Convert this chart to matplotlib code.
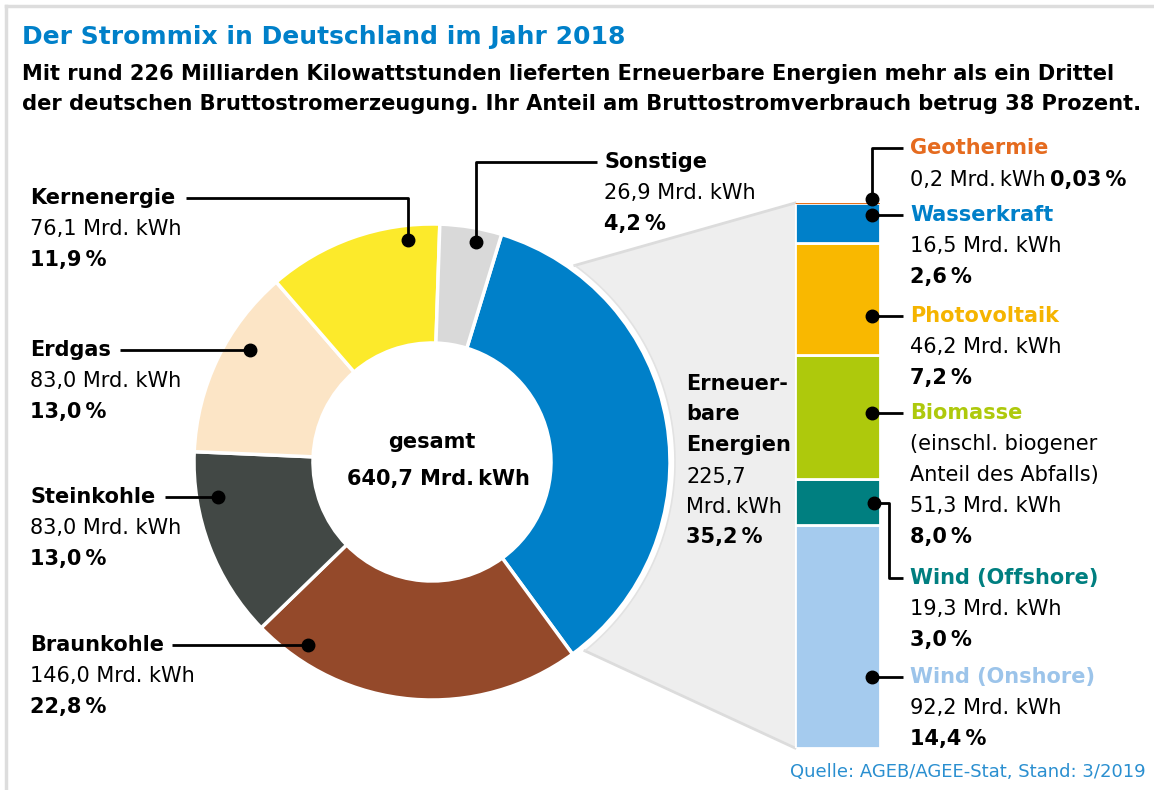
import numpy as np
import matplotlib
matplotlib.use('Agg')
import matplotlib.pyplot as plt
from matplotlib.patches import Polygon

W, H = 1154, 790
plt.rcParams['font.family'] = ['DejaVu Sans']

# Daten: Bruttostromerzeugung 2018 (Mrd. kWh)
quellen = ['Erneuerbare Energien', 'Braunkohle', 'Steinkohle', 'Erdgas', 'Kernenergie', 'Sonstige']
mrd_kwh = [225.7, 146.0, 83.0, 83.0, 76.1, 26.9]
anteile = ['35,2', '22,8', '13,0', '13,0', '11,9', '4,2']
farben = ['#0080c9', '#94492a', '#424845', '#fce5c6', '#fcea2b', '#d9d9d9']

# Aufteilung der Erneuerbaren (von unten nach oben)
ee_quellen = ['Wind (Onshore)', 'Wind (Offshore)', 'Biomasse', 'Photovoltaik', 'Wasserkraft', 'Geothermie']
ee_mrd_kwh = [92.2, 19.3, 51.3, 46.2, 16.5, 0.2]
ee_anteile = ['14,4', '3,0', '8,0', '7,2', '2,6', '0,03']
ee_farben = ['#a5cbee', '#007f80', '#aec90c', '#f9b800', '#0080c9', '#e8711c']
ee_textfarben = ['#9cc4ea', '#007f80', '#aec90c', '#f5b400', '#0080c9', '#e56b1f']

gesamt = sum(mrd_kwh)

def fmt(v):
    return ('%.1f' % v).replace('.', ',')

fig = plt.figure(figsize=(W / 100, H / 100), dpi=100)

# Hintergrund (Verbindungsflaeche, Rahmen)
unten = fig.add_axes([0, 0, 1, 1])
unten.set_xlim(0, W)
unten.set_ylim(H, 0)
unten.axis('off')

cx, cy, r = 432, 462, 238          # Donut in Pixeln
bx, btop, bbot, bw = 795, 203, 748, 85   # Balken in Pixeln

# graue Verbindungsflaeche zwischen Donut und Balken
R2 = r + 5
w_oben, w_unten = np.radians(-54), np.radians(51)
bogen = np.linspace(w_unten, w_oben, 60)
p_oben = (cx + R2 * np.cos(w_oben), cy + R2 * np.sin(w_oben))
p_unten = (cx + R2 * np.cos(w_unten), cy + R2 * np.sin(w_unten))
flaeche = [p_oben, (bx, btop), (bx, bbot), p_unten]
flaeche += [(cx + R2 * np.cos(b), cy + R2 * np.sin(b)) for b in bogen]
unten.add_patch(Polygon(flaeche, closed=True, facecolor='#eeeeee', edgecolor='none'))
unten.plot([p_oben[0], bx], [p_oben[1], btop], color='#dcdcdc', lw=2)
unten.plot([p_unten[0], bx], [p_unten[1], bbot], color='#dcdcdc', lw=2)
unten.plot(cx + R2 * np.cos(bogen), cy + R2 * np.sin(bogen), color='#e2e2e2', lw=1.2)

# Rahmen
unten.plot([6, 6], [6, H], color='#dddddd', lw=2.5)
unten.plot([6, W], [6, 6], color='#dddddd', lw=2.5)

# Donut
ax = fig.add_axes([(cx - r) / W, (H - cy - r) / H, 2 * r / W, 2 * r / H])
ax.pie(mrd_kwh, colors=farben, startangle=73, counterclock=False, radius=1,
       wedgeprops=dict(width=0.5, edgecolor='white', linewidth=2.5))
ax.set_xlim(-1, 1)
ax.set_ylim(-1, 1)
ax.axis('off')

# gestapelter Balken
bax = fig.add_axes([bx / W, (H - bbot) / H, bw / W, (bbot - btop) / H])
unterkante = 0
for q, v, c in zip(ee_quellen, ee_mrd_kwh, ee_farben):
    if q == 'Geothermie':
        bax.bar(0, v, bottom=unterkante, width=1, color=c, edgecolor=c, linewidth=0.8)
    else:
        bax.bar(0, v, bottom=unterkante, width=1, color=c, edgecolor='white', linewidth=2)
    unterkante += v
bax.set_xlim(-0.5, 0.5)
bax.set_ylim(0, sum(ee_mrd_kwh))
bax.axis('off')

# Vordergrund: Texte und Fuehrungslinien
oben = fig.add_axes([0, 0, 1, 1])
oben.set_xlim(0, W)
oben.set_ylim(H, 0)
oben.patch.set_alpha(0)
oben.axis('off')

fs = 15
def t(x, y, s, bold=False, color='black', size=fs, **kw):
    return oben.text(x, y, s, fontsize=size, fontweight='bold' if bold else 'normal',
                     color=color, va='center', **kw)

def leitung(xs, ys):
    oben.plot(xs, ys, color='black', lw=2, solid_capstyle='butt')
    oben.plot(xs[-1], ys[-1], 'o', color='black', ms=9)

blau = '#0080c9'
t(22, 37, 'Der Strommix in Deutschland im Jahr 2018', bold=True, color=blau, size=18)
t(22, 74, 'Mit rund 226 Milliarden Kilowattstunden lieferten Erneuerbare Energien mehr als ein Drittel',
  bold=True, size=15.1)
t(22, 104, 'der deutschen Bruttostromerzeugung. Ihr Anteil am Bruttostromverbrauch betrug 38 Prozent.',
  bold=True, size=15.1)

# linke Beschriftungen
links = {'Kernenergie': 198, 'Erdgas': 350, 'Steinkohle': 497, 'Braunkohle': 645}
for q, v, a in zip(quellen, mrd_kwh, anteile):
    if q not in links:
        continue
    y = links[q]
    t(30, y, q, bold=True)
    t(30, y + 31, fmt(v) + ' Mrd. kWh')
    t(30, y + 62, a + '\u2009%', bold=True)

leitung([186, 408, 408], [198, 198, 240])
leitung([120, 250], [350, 350])
leitung([165, 218], [497, 497])
leitung([172, 308], [645, 645])

# Sonstige
t(604, 162, quellen[5], bold=True)
t(604, 193, fmt(mrd_kwh[5]) + ' Mrd. kWh')
t(604, 224, anteile[5] + '\u2009%', bold=True)
leitung([597, 476, 476], [162, 162, 242])

# Mitte
oben.text(cx, 442, 'gesamt', fontsize=fs, fontweight='bold', ha='center', va='center')
oben.text(cx + 6, 479, fmt(gesamt) + ' Mrd.\u2009kWh', fontsize=fs, fontweight='bold',
          ha='center', va='center')

# Erneuerbare
t(686, 384, 'Erneuer-', bold=True)
t(686, 414, 'bare', bold=True)
t(686, 445, 'Energien', bold=True)
t(686, 477, fmt(mrd_kwh[0]))
t(686, 507, 'Mrd.\u2009kWh')
t(686, 537, anteile[0] + '\u2009%', bold=True)

# rechte Beschriftungen
rechts = {'Geothermie': 148, 'Wasserkraft': 215, 'Photovoltaik': 316,
          'Biomasse': 413, 'Wind (Offshore)': 578, 'Wind (Onshore)': 677}
renderer = fig.canvas.get_renderer()
for q, v, a, c in zip(ee_quellen, ee_mrd_kwh, ee_anteile, ee_textfarben):
    y = rechts[q]
    t(910, y, q, bold=True, color=c)
    if q == 'Geothermie':
        txt = t(910, y + 32, fmt(v) + ' Mrd.\u2009kWh')
        ende = txt.get_window_extent(renderer).x1
        t(ende + 4, y + 32, a + '\u2009%', bold=True)
        continue
    zeilen = []
    if q == 'Biomasse':
        zeilen = ['(einschl. biogener', 'Anteil des Abfalls)']
    for i, z in enumerate(zeilen):
        t(910, y + 31 * (i + 1), z)
    n = len(zeilen)
    t(910, y + 31 * (n + 1), fmt(v) + ' Mrd. kWh')
    t(910, y + 31 * (n + 2), a + '\u2009%', bold=True)

leitung([903, 872, 872], [148, 148, 199])
leitung([903, 872], [215, 215])
leitung([903, 872], [316, 316])
leitung([903, 872], [413, 413])
leitung([903, 889, 889, 874], [578, 578, 503, 503])
leitung([903, 872], [677, 677])

oben.text(1146, 772, 'Quelle: AGEB/AGEE-Stat, Stand: 3/2019', fontsize=13,
          color='#2a8fd0', ha='right', va='center')

fig.savefig('out.png', dpi=100)
